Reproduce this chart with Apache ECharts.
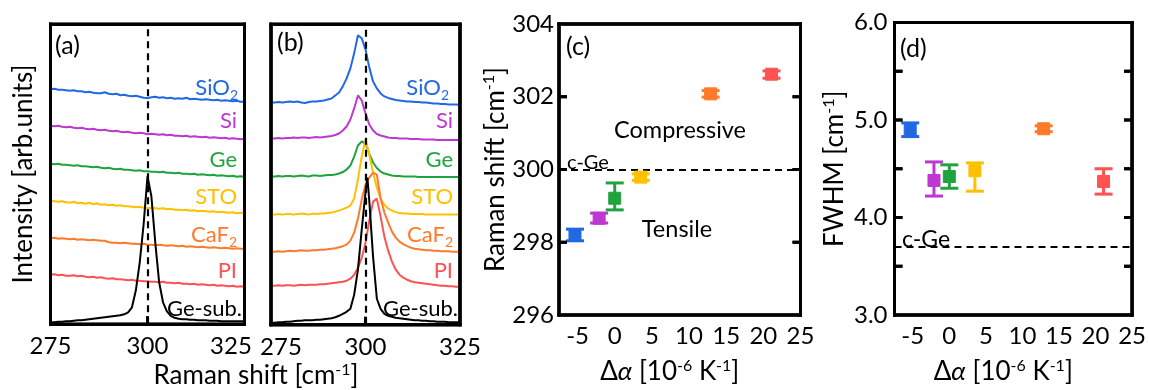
<!DOCTYPE html>
<html><head><meta charset="utf-8">
<script src="https://cdn.jsdelivr.net/npm/echarts@6/dist/echarts.min.js"></script>
<style>html,body{margin:0;padding:0;background:#fff}#c{width:1149px;height:390px}</style>
</head><body><div id="c"></div>
<script>
// ---------- data ----------
const ramanX = [275,276,277,278,279,280,281,282,283,284,285,286,287,288,289,290,291,292,293,294,295,296,297,298,299,300,301,302,303,304,305,306,307,308,309,310,311,312,313,314,315,316,317,318,319,320,321,322,323,324,325];
const ramanXb = [275,276,277,278,279,280,281,282,283,284,285,286,287,288,289,290,291,292,293,294,295,296,297,298,299,300,300.5,301,302,303,304,305,306,307,308,309,310,311,312,313,314,315,316,317,318,319,320,321,322,323,324,325];
const substrates = ['SiO2','Si','Ge','STO','CaF2','PI','Ge-sub.'];
const colors = ['#2169e3','#bd38d0','#20a33e','#ffc000','#ff7a2b','#ff5252','#000000'];

// panel (a)
const aSiO2 = [235,235.5,234.5,234.5,234,233.5,234,233,233,232,232.5,231.5,231,231,232,230.5,230,230.5,229,229.5,228.5,228,228.5,227.5,226.5,226,227,227.5,226.5,227,226,226.5,225.5,226,225.5,226.5,225,225.5,225,224.5,225,224.5,224,224.5,223.5,224,223.5,223,223.5,222.5,222.5];
const aSi = [198.5,198,198.5,197.5,197,197.5,196.5,196,196.5,195.5,195,195.5,194.5,194,194.5,193.5,193,193.5,192.5,192,192.5,191.5,191,191.5,191,190,190.5,190,189.5,190,189,189.5,188.5,188.5,188,188.5,187.5,188,187.5,187,187.5,186.5,187,186.5,186,186.5,185.5,186,185.5,185,185.5];
const aGe = [160.5,160,160.5,159.5,159.5,159,158.5,159,158,158,157.5,157,157.5,156.5,156,156.5,155.5,155,155.5,154.5,154.5,154,153.5,154,153,153,152.5,152.5,152,152.5,151.5,151.5,151,151.5,150.5,150.5,150,150.5,149.5,150,149.5,149,149.5,148.5,149,148.5,148,148.5,147.5,148,147.5];
const aSTO = [123.5,123,122.5,123,122,121.5,122.5,121,121.5,120.5,121.5,120,121,119.5,120,119,119.5,118.5,119,118,118,117.5,117,117.5,116.5,116,116.5,116,115.5,116,115,115.5,114.5,114.5,114,114.5,113.5,114,113,113.5,113,112.5,113,112,112.5,112,111.5,112,111,111.5,111];
const aCaF2 = [86,86.5,85.5,86,85.5,85,85.5,84.5,85,84.5,84,84.5,84,83.5,83.5,82,81.5,81.5,81,81.5,81,80.5,80.5,80,80.5,79.5,79.5,79,79.5,79,78.5,79,78.5,78,78.5,77.5,78,77.5,77,77.5,77,76.5,77,76.5,76,76.5,76,75.5,76,75.5,75.5];
const aPI = [49.5,50,49,49.5,48.5,48.5,49,48,48.5,47.5,47,47.5,46.5,47,46,45.5,46,45,45,44.5,44,44.5,43.5,43.5,43,43,42.5,42.5,42,42.5,41.5,41.5,41,41.5,40.5,40.5,40,40.5,39.5,40,39.5,39,39.5,38.5,39,38.5,38,38.5,37.5,38,37.5];
const aGeSub = [2,2,2.5,2.5,3,3,3.5,4,4,4.5,5,5.5,6,6.5,7,7.5,8,8.5,9,10,12,17,34,62,100,148,128,82,42,22,13,8.5,6.5,5.5,5,5,4.5,4.5,4,4,4,3.5,3.5,3.5,3,3,3,3,3,3,3];

// panel (b)
const bSiO2 = [222,222,222.5,222,222.5,223,222.5,223,222,221.5,222.5,223,223,223.5,224,225,226,229,232,238,246,256,271,289,286,275,257,243,236,231,228,226.5,225.5,224.5,224,223.5,223,223,222.5,222.5,222,222,221.5,221,221,220.5,220.5,220,220,220,219.5];
const bSi = [186,186,186.5,186,186.5,186.5,187,186.5,187,187,186.5,187,187.5,187,187.5,188,188.5,189.5,191,194,198,205,216,229,224,211,200,194,190.5,189,188,187,186.5,186.5,186,186,186,185.5,185.5,185.5,185,185,185,185,184.5,184.5,184.5,184.5,184.5,184.5,184.5];
const bGe = [148,148,148.5,148,148.5,148.5,148,148.5,149,148.5,148,149,149,148.5,149,149.5,149.5,150,151,152.5,155,159,168,179,183,181,171,162,156.5,153,151,150,149,148.5,148.5,148,148,148,148,147.5,147.5,147.5,147.5,147.5,147.5,147.5,147.5,147.5,147.5,147.5,147.5];
const bSTO = [110,110,110.5,110,110.5,110.5,110,110.5,111,110.5,110,111,110.5,111,111,111.5,112,113,114,115.5,117,119,126,145,168,185,170,152,137,126,119.5,116,114,112.5,111.5,111,111,110.5,110.5,110.5,110.5,110,110,110,110,110,110,110,110,110,110];
const bCaF2 = [73,73,73.5,73,73.5,74,73.5,74,74.5,74,74,74.5,74.5,75,75,75.5,76,76.5,77.5,78.5,80,84,92,106,125,140,147,152,150,126,112,102,93,87,83,80.5,78.5,77,76,75.5,75,74.5,74.5,74,74,73.5,73.5,73.5,73,73,73];
const bPI = [39,39,39.5,39,39.5,39.5,39,39.5,40,39.5,40,40,40,40.5,40.5,41,41.5,42,42.5,43,44,46,50,57,67,82,104,123,126,108,88,74,63,55,50,47,45,43.5,42.5,42,41.5,41,40.5,40,39.5,39,39,38.5,38.5,38,38];
const bGeSub = [2,2,2.5,2.5,3,3,3.5,4,4,4.5,4.5,4.5,5,5,5.5,6,6.5,7.5,9,11,13,16,30,55,95,132,147,124,68,26,16,11,9,8,7,6.5,6,5.5,5,4.5,4.5,4,4,3.5,3.5,3,3,3,2.5,2.5,2.5,2.5];

// panels (c) and (d)
const dAlpha = [-5.35,-2.1,0,3.5,12.9,21.1];
const shiftVal = [298.20,298.66,299.21,299.79,302.08,302.62];
const shiftLo  = [298.04,298.53,298.89,299.70,301.99,302.51];
const shiftHi  = [298.36,298.80,299.63,299.88,302.17,302.71];
const fwhmVal = [4.90,4.38,4.42,4.48,4.91,4.37];
const fwhmLo  = [4.83,4.22,4.30,4.27,4.88,4.24];
const fwhmHi  = [4.97,4.57,4.54,4.56,4.94,4.50];
const cGeShift = 300.0;
const cGeFWHM = 3.70;

// axis ranges and ticks
const ramanRange = [275,325], intensityRange = [0,300];
const alphaRange = [-7.5,25], shiftRange = [296,304], fwhmRange = [3,6];
const alphaTicks = [-5,0,5,10,15,20,25];
const fwhmLabelTicks = [3,4,5,6];
const ramanInnerTicks = [300];
const shiftInnerTicks = [298,300,302];
const fwhmInnerTicks = [3.5,4,4.5,5,5.5];

// ---------- chart ----------
const FONT = 'Lato';
const chart = echarts.init(document.getElementById('c'));
const aSeries = [aSiO2,aSi,aGe,aSTO,aCaF2,aPI,aGeSub];
const bSeries = [bSiO2,bSi,bGe,bSTO,bCaF2,bPI,bGeSub];
function pairs(xs, ys){ return ys.map((v,i)=>[xs[i], v]); }

const dashStyle = {color:'#000', width:2.2, type:[7,5]};
const series = [];
aSeries.forEach((ys,k)=>{
  series.push({type:'line', xAxisIndex:0, yAxisIndex:0, data:pairs(ramanX, ys), showSymbol:false,
    lineStyle:{color:colors[k], width:2},
    markLine: k===6 ? {symbol:'none', silent:true, label:{show:false}, lineStyle:dashStyle, data:[{xAxis:300}]} : undefined});
});
bSeries.forEach((ys,k)=>{
  series.push({type:'line', xAxisIndex:1, yAxisIndex:1, data:pairs(k===6?ramanXb:ramanX, ys), showSymbol:false,
    lineStyle:{color:colors[k], width:2},
    markLine: k===6 ? {symbol:'none', silent:true, label:{show:false}, lineStyle:dashStyle, data:[{xAxis:300}]} : undefined});
});

function errRender(params, api){
  const x = api.value(0), y = api.value(1), lo = api.value(2), hi = api.value(3);
  const p = api.coord([x,y]), pl = api.coord([x,lo]), ph = api.coord([x,hi]);
  const col = colors[params.dataIndex];
  const cw = 9, s = 6;
  return {type:'group', children:[
    {type:'line', shape:{x1:p[0],y1:pl[1],x2:p[0],y2:ph[1]}, style:{stroke:col, lineWidth:3}},
    {type:'line', shape:{x1:p[0]-cw,y1:pl[1],x2:p[0]+cw,y2:pl[1]}, style:{stroke:col, lineWidth:3}},
    {type:'line', shape:{x1:p[0]-cw,y1:ph[1],x2:p[0]+cw,y2:ph[1]}, style:{stroke:col, lineWidth:3}},
    {type:'rect', shape:{x:p[0]-s,y:p[1]-s,width:2*s,height:2*s}, style:{fill:col, stroke:col, lineWidth:1}}
  ]};
}
series.push({type:'custom', xAxisIndex:2, yAxisIndex:2, renderItem:errRender, z:5,
  data: dAlpha.map((x,i)=>[x, shiftVal[i], shiftLo[i], shiftHi[i]]), encode:{x:0, y:[1,2,3]}});
series.push({type:'line', xAxisIndex:2, yAxisIndex:2, data:[], showSymbol:false,
  markLine:{symbol:'none', silent:true, label:{show:false}, lineStyle:dashStyle, data:[{yAxis:cGeShift}]}});
series.push({type:'custom', xAxisIndex:3, yAxisIndex:3, renderItem:errRender, z:5,
  data: dAlpha.map((x,i)=>[x, fwhmVal[i], fwhmLo[i], fwhmHi[i]]), encode:{x:0, y:[1,2,3]}});
series.push({type:'line', xAxisIndex:3, yAxisIndex:3, data:[], showSymbol:false,
  markLine:{symbol:'none', silent:true, label:{show:false}, lineStyle:dashStyle, data:[{yAxis:cGeFWHM}]}});

// frames (filled bars) with inward ticks, drawn through each grid's scales
const frames = [
  {i:0, xr:ramanRange, yr:intensityRange, xt:ramanInnerTicks, yt:[]},
  {i:1, xr:ramanRange, yr:intensityRange, xt:ramanInnerTicks, yt:[]},
  {i:2, xr:alphaRange, yr:shiftRange, xt:[], yt:shiftInnerTicks},
  {i:3, xr:alphaRange, yr:fwhmRange, xt:[], yt:fwhmInnerTicks}
];
const FW = 3, TL = 8;
function frameRects(f, toPx){
  const p0 = toPx([f.xr[0], f.yr[1]]), p1 = toPx([f.xr[1], f.yr[0]]);
  const h = FW/2, L = p0[0], T = p0[1], R = p1[0], B = p1[1];
  const r = [
    [L-h, T-h, R-L+FW, FW], [L-h, B-h, R-L+FW, FW],
    [L-h, T-h, FW, B-T+FW], [R-h, T-h, FW, B-T+FW]
  ];
  f.yt.forEach(v=>{ const py = toPx([f.xr[0], v])[1]; r.push([L, py-h, TL, FW]); r.push([R-TL, py-h, TL, FW]); });
  f.xt.forEach(v=>{ const px = toPx([v, f.yr[0]])[0]; r.push([px-h, B-TL, FW, TL]); });
  return r;
}
frames.forEach(f=>{
  series.push({type:'custom', xAxisIndex:f.i, yAxisIndex:f.i, z:20, silent:true, clip:false,
    data:[[f.xr[0], f.yr[0]]], encode:{x:0, y:1},
    renderItem:function(params, api){
      return {type:'group', children: frameRects(f, v=>api.coord(v)).map(q=>({type:'rect',
        shape:{x:q[0], y:q[1], width:q[2], height:q[3]}, style:{fill:'#000'}}))};
    }});
});

const TICK_FS = 24, TITLE_FS = 26;
const tickFont = {fontFamily:FONT, fontSize:TICK_FS, color:'#000'};
const nameRich = {
  n:{fontFamily:FONT, fontSize:TITLE_FS, color:'#000'},
  i:{fontFamily:FONT, fontSize:TITLE_FS, color:'#000', fontStyle:'italic'},
  s:{fontFamily:FONT, fontSize:16, color:'#000', padding:[0,0,12,0]}
};
const noLine = {show:false, onZero:false};

const xRaman = (gi, rich, fmt) => ({type:'value', gridIndex:gi, position:'bottom', min:ramanRange[0], max:ramanRange[1], interval:25,
  axisLine:noLine, splitLine:{show:false}, axisTick:{show:false},
  axisLabel:Object.assign({margin:10, formatter:fmt, rich:rich}, tickFont)});
const xAlpha = (gi) => ({type:'value', gridIndex:gi, position:'bottom', min:alphaRange[0], max:alphaRange[1],
  axisLine:noLine, splitLine:{show:false}, axisTick:{show:false},
  axisLabel:Object.assign({margin:9, customValues:alphaTicks}, tickFont),
  name:'{n|Δ}{i|α}{n| [10}{s|-6}{n| K}{s|-1}{n|]}', nameLocation:'middle', nameGap:43,
  nameTextStyle:{rich:nameRich, padding:[0,20,0,0]}});

const gb = {show:true, borderColor:'#000', borderWidth:3};
const option = {
  animation:false,
  grid:[
    Object.assign({left:50.5, top:24.3, width:194, height:300}, gb),
    Object.assign({left:271, top:24.3, width:189, height:300.5}, gb),
    Object.assign({left:559, top:24, width:241.5, height:302.5}, gb),
    Object.assign({left:894.5, top:22.5, width:238, height:302.5}, gb)
  ],
  xAxis:[
    xRaman(0, {r:Object.assign({padding:[0,27,0,0]}, tickFont)}, v => v===325 ? '{r|325}' : String(v)),
    xRaman(1, {l:Object.assign({padding:[0,0,0,20]}, tickFont)}, v => v===275 ? '{l|275}' : String(v)),
    xAlpha(2),
    xAlpha(3)
  ],
  yAxis:[
    {type:'value', gridIndex:0, position:'left', min:intensityRange[0], max:intensityRange[1], axisLine:noLine, axisTick:{show:false}, axisLabel:{show:false}, splitLine:{show:false}},
    {type:'value', gridIndex:1, position:'left', min:intensityRange[0], max:intensityRange[1], axisLine:noLine, axisTick:{show:false}, axisLabel:{show:false}, splitLine:{show:false}},
    {type:'value', gridIndex:2, position:'left', min:shiftRange[0], max:shiftRange[1], interval:2,
      axisLine:noLine, splitLine:{show:false}, axisTick:{show:false},
      axisLabel:Object.assign({margin:5}, tickFont),
      name:'{n|Raman shift [cm}{s|-1}{n|]}', nameLocation:'middle', nameGap:46,
      nameTextStyle:{rich:nameRich}},
    {type:'value', gridIndex:3, position:'left', min:fwhmRange[0], max:fwhmRange[1], interval:0.5,
      axisLine:noLine, splitLine:{show:false}, axisTick:{show:false},
      axisLabel:Object.assign({margin:7, customValues:fwhmLabelTicks, formatter:v=>v.toFixed(1)}, tickFont),
      name:'{n|FWHM [cm}{s|-1}{n|]}', nameLocation:'middle', nameGap:46,
      nameTextStyle:{rich:nameRich}}
  ],
  series: series
};

// text annotations
const labelText = ['{n|SiO}{b|2}','{n|Si}','{n|Ge}','{n|STO}','{n|CaF}{b|2}','{n|PI}','{n|Ge-sub.}'];
const labelY = [88,121,160,197,235,271,309];
const labelRightA = [238,237,237,237,237,237,242];
const labelRightB = [449,453,453,453,453,453,458];
const g = [];
function txt(x,y,text,opt){
  g.push({type:'text', x:x, y:y, silent:true, z:100, rotation:opt.rot||0,
    style:{text:text, fill:opt.fill||'#000', fontFamily:FONT, fontSize:opt.size||22,
      align:opt.align||'left', verticalAlign:'middle', rich:opt.rich}});
}
labelText.forEach((t,k)=>{
  const rich = {n:{fontFamily:FONT, fontSize:22, fill:colors[k], color:colors[k]},
                b:{fontFamily:FONT, fontSize:14, fill:colors[k], color:colors[k], padding:[14,0,0,0]}};
  txt(labelRightA[k], labelY[k], t, {align:'right', rich:rich, fill:colors[k]});
  txt(labelRightB[k], labelY[k], t, {align:'right', rich:rich, fill:colors[k]});
});
txt(55,46,'(a)',{size:25});
txt(277,43,'(b)',{size:25});
txt(566,47,'(c)',{size:25});
txt(900,49,'(d)',{size:25});
txt(680,130,'Compressive',{size:23.5, align:'center'});
txt(677,229,'Tensile',{size:23.5, align:'center'});
txt(567,163,'c-Ge',{size:20});
txt(902,240,'c-Ge',{size:23});
const titleRich = {n:{fontFamily:FONT, fontSize:TITLE_FS, color:'#000'}, s:{fontFamily:FONT, fontSize:16, color:'#000', padding:[0,0,12,0]}};
txt(256,376,'{n|Raman shift [cm}{s|-1}{n|]}',{align:'center', rich:titleRich});
txt(24,174,'{n|Intensity [arb.units]}',{align:'center', rich:titleRich, rot:Math.PI/2});
option.graphic = g;

chart.setOption(option);

// same frames again as top-level graphic bars, positioned by the grids' scales
const fg = [];
frames.forEach(f=>{
  const finder = {xAxisIndex:f.i, yAxisIndex:f.i};
  frameRects(f, v=>chart.convertToPixel(finder, v)).forEach(q=>{
    fg.push({type:'rect', z:1000, silent:true, shape:{x:q[0], y:q[1], width:q[2], height:q[3]}, style:{fill:'#000'}});
  });
});
chart.setOption({graphic: g.concat(fg)});
</script>
</body></html>
